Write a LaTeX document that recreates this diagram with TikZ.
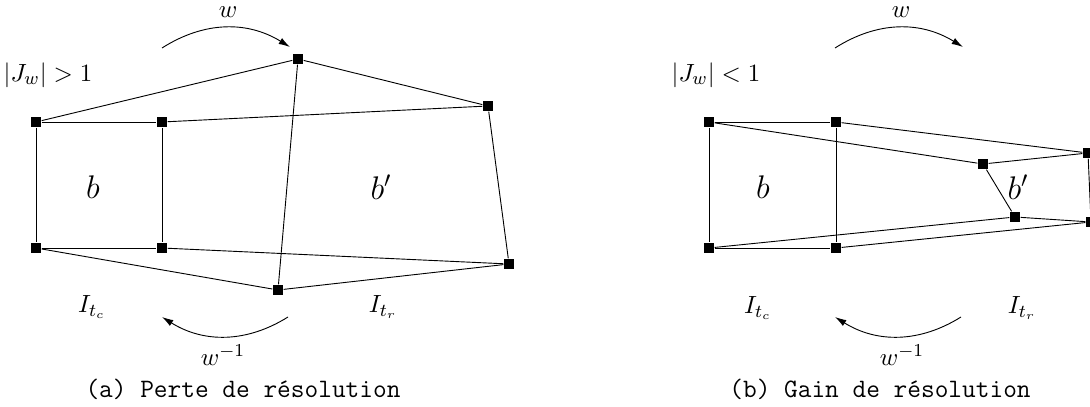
\documentclass[tikz,border=0pt]{standalone}
\usepackage{amsmath}
\usetikzlibrary{arrows.meta}

\begin{document}
\begin{tikzpicture}[x=0.44pt,y=-0.44pt,
  sq/.style={fill=black,minimum size=4.6pt,inner sep=0pt},
  warp/.style={-{Latex[length=5pt,width=3pt]},bend left=32},
  lbl/.style={font=\fontsize{10.9}{13}\selectfont},
  blk/.style={font=\Large},
  subcap/.style={font=\fontsize{11.7}{14}\selectfont\ttfamily}]
\clip (0,0) rectangle (1090,407);
% (a) loss of resolution: b (left) is pushed onto a larger b'
\foreach \n/\x/\y in {a1/36/122, a2/162/122, a3/36/248, a4/162/248,
                      a5/298/59, a6/488/106, a7/509/264, a8/278/290}
  \node[sq] (\n) at (\x,\y) {};
\foreach \p/\q in {a1/a2, a1/a3, a2/a4, a3/a4, a1/a5, a5/a6, a2/a6,
                   a6/a7, a4/a7, a3/a8, a8/a7, a5/a8}
  \draw (\p) -- (\q);
\coordinate (wa0) at (162,48);  \coordinate (wa1) at (290,47);
\coordinate (ia0) at (288,317); \coordinate (ia1) at (162,317);
\draw[warp] (wa0) to (wa1);
\draw[warp] (ia0) to (ia1);
\node[lbl] (wa)  at (228,12)  {$w$};
\node[lbl] (ia)  at (223,355) {$w^{-1}$};
\node[lbl] (ja)  at (48,75)   {$|J_w| > 1$};
\node[blk] (ba)  at (93,187)  {$b$};
\node[blk] (bpa) at (381,187) {$b'$};
\node[lbl] (ica) at (92,307)  {$I_{t_c}$};
\node[lbl] (ira) at (383,307) {$I_{t_r}$};
\node[subcap] (capa) at (243,389) {(a) Perte de résolution};
% (b) gain of resolution: b' shrinks
\foreach \n/\x/\y in {b1/709/122, b2/836/122, b3/709/248, b4/836/248,
                      b5/983/164, b6/1088/153, b7/1015/217, b8/1091/222}
  \node[sq] (\n) at (\x,\y) {};
\foreach \p/\q in {b1/b2, b1/b3, b2/b4, b3/b4, b1/b5, b2/b6, b5/b6,
                   b5/b7, b6/b8, b3/b7, b7/b8, b4/b8}
  \draw (\p) -- (\q);
\coordinate (wb0) at (835,48);  \coordinate (wb1) at (963,47);
\coordinate (ib0) at (961,317); \coordinate (ib1) at (835,317);
\draw[warp] (wb0) to (wb1);
\draw[warp] (ib0) to (ib1);
\node[lbl] (wb)  at (901,12)  {$w$};
\node[lbl] (ib)  at (902,355) {$w^{-1}$};
\node[lbl] (jb)  at (716,75)  {$|J_w| < 1$};
\node[blk] (bb)  at (763,187)  {$b$};
\node[blk] (bpb) at (1018,187) {$b'$};
\node[lbl] (icb) at (758,308)  {$I_{t_c}$};
\node[lbl] (irb) at (1022,308) {$I_{t_r}$};
\node[subcap] (capb) at (880,389) {(b) Gain de résolution};
\end{tikzpicture}
\end{document}
